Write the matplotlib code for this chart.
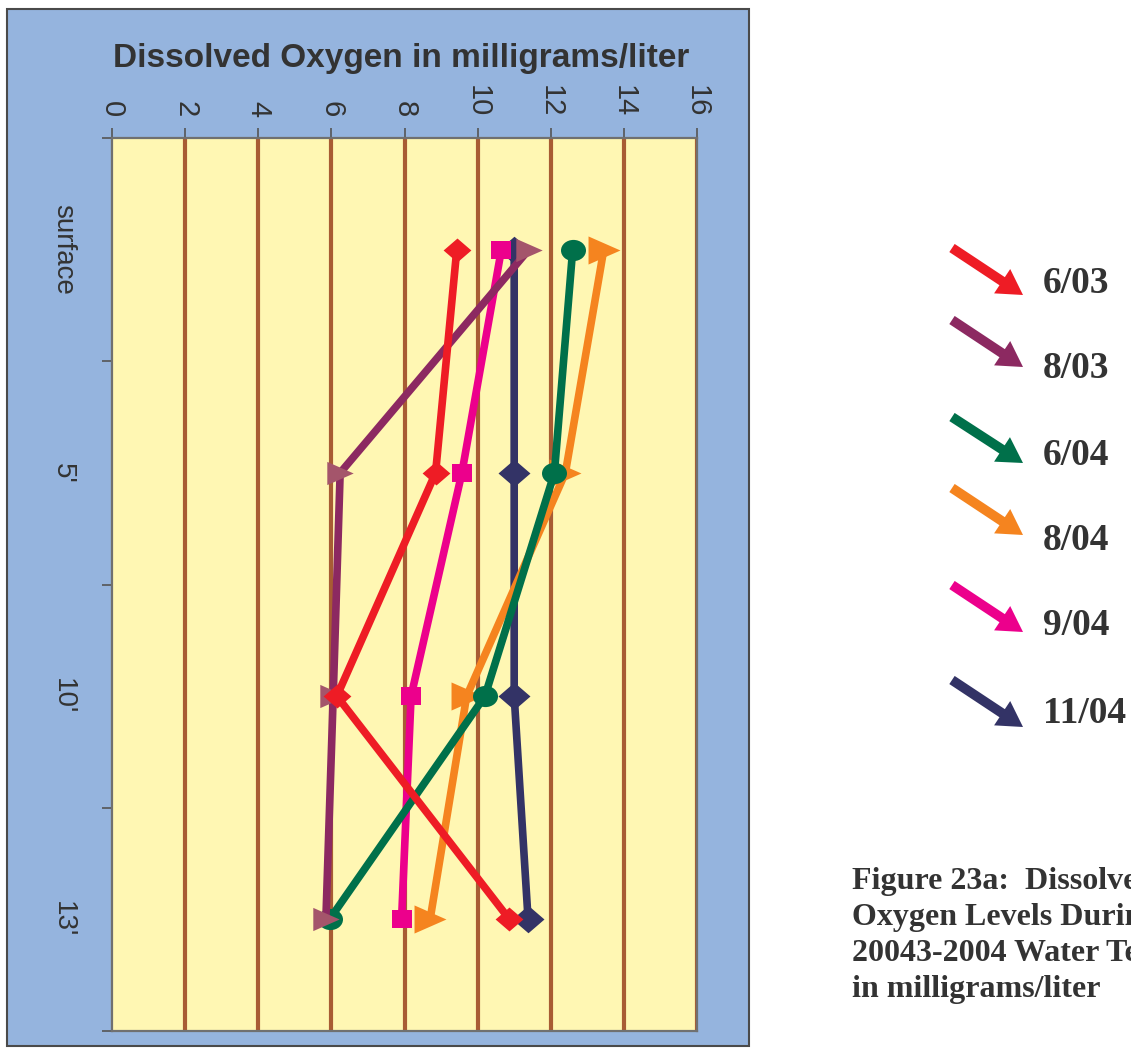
import matplotlib
matplotlib.use("Agg")
import matplotlib.pyplot as plt
import numpy as np
from matplotlib.path import Path
from matplotlib.transforms import Affine2D
from matplotlib.patches import Rectangle, FancyArrowPatch, ArrowStyle

# ---- data: dissolved oxygen (mg/L) by sampling depth ----
depths = ["surface", "5'", "10'", "13'"]
series = ["6/03", "8/03", "6/04", "8/04", "9/04", "11/04"]
do_jun03 = [9.43, 8.85, 6.15, 10.87]
do_aug03 = [11.4, 6.24, 6.05, 5.85]
do_jun04 = [12.6, 12.1, 10.2, 5.95]
do_aug04 = [13.45, 12.4, 9.7, 8.7]
do_sep04 = [10.65, 9.57, 8.18, 7.92]
do_nov04 = [11.0, 11.0, 11.0, 11.38]
x_ticks = [0, 2, 4, 6, 8, 10, 12, 14, 16]

W, H = 1131, 1048


def fx(px):
    return px / W


def fy(py):
    return 1 - py / H


# custom marker shapes (slightly wider than tall)
def closed(verts):
    codes = [Path.MOVETO] + [Path.LINETO] * (len(verts) - 2) + [Path.CLOSEPOLY]
    return Path(verts, codes)


diamond = closed([(-0.58, 0), (0, 0.5), (0.58, 0), (0, -0.5), (-0.58, 0)])
square = closed([(-0.58, -0.5), (0.58, -0.5), (0.58, 0.5), (-0.58, 0.5), (-0.58, -0.5)])
tri_right = closed([(-0.5, -0.44), (0.5, 0), (-0.5, 0.44), (-0.5, -0.44)])
ellipse = Path.unit_circle().transformed(Affine2D().scale(1.18, 1.0))

styles = {
    "6/03": dict(values=do_jun03, color="#EE1C25", mfc="#EE1C25", marker=diamond, ms=20),
    "8/03": dict(values=do_aug03, color="#8C2961", mfc="#A4556B", marker=tri_right, ms=19),
    "6/04": dict(values=do_jun04, color="#00704A", mfc="#00704A", marker=ellipse, ms=18),
    "8/04": dict(values=do_aug04, color="#F5841F", mfc="#F5841F", marker=tri_right, ms=23),
    "9/04": dict(values=do_sep04, color="#EC008C", mfc="#EC008C", marker=square, ms=15),
    "11/04": dict(values=do_nov04, color="#333366", mfc="#333366", marker=diamond, ms=23),
}

fig = plt.figure(figsize=(W / 100, H / 100), dpi=100)
fig.patch.set_facecolor("white")

# blue chart panel
panel = Rectangle((fx(7), fy(1046)), (749 - 7) / W, (1046 - 9) / H,
                  transform=fig.transFigure, facecolor="#95B4DE",
                  edgecolor="#4A4A4A", lw=1.5, zorder=0)
fig.add_artist(panel)

ax = fig.add_axes([fx(112), fy(1031), (697 - 112) / W, (1031 - 138) / H])
ax.set_facecolor("#FFF7B3")
ax.set_xlim(0, 16)
ax.set_ylim(3.5, -0.5)

for v in x_ticks[1:]:
    ax.axvline(v, color="#A85C34", lw=3, zorder=1)

ypos = np.arange(len(depths))
for name in reversed(series):
    st = styles[name]
    ax.plot(st["values"], ypos, color=st["color"], lw=5.5,
            marker=st["marker"], ms=st["ms"], mfc=st["mfc"], mec=st["mfc"],
            mew=0, zorder=3, solid_capstyle="butt")

for side, sp in ax.spines.items():
    sp.set_color("#707070")
    sp.set_linewidth(1.6)
    sp.set_zorder(2)

# x axis on top
ax.set_xticks(x_ticks)
ax.xaxis.tick_top()
ax.tick_params(axis="x", which="major", top=True, bottom=False, labeltop=True,
               labelbottom=False, direction="out", length=7, width=1.2,
               color="#555555", pad=8, labelsize=21, labelcolor="#333333",
               labelrotation=-90)
for lbl in ax.get_xticklabels():
    lbl.set_family(["Liberation Sans Narrow", "Liberation Sans", "DejaVu Sans"])

# y axis: category labels, ticks at the category boundaries
ax.set_yticks(ypos)
ax.set_yticklabels(depths, rotation=-90, va="center", fontsize=20,
                   color="#333333", family=["Liberation Sans", "DejaVu Sans"])
ax.set_yticks(np.arange(-0.5, len(depths), 1.0), minor=True)
ax.tick_params(axis="y", which="major", length=0, pad=26)
ax.tick_params(axis="y", which="minor", length=7, width=1.2,
               direction="out", color="#555555")

fig.text(fx(401), fy(67), "Dissolved Oxygen in milligrams/liter",
         ha="center", va="baseline", fontsize=24, fontweight="bold",
         color="#333333", family=["Liberation Sans", "DejaVu Sans"])

# legend: arrows with dates
arrow_rows = [(248, 295, 293), (320, 367, 378), (417, 463, 465),
              (488, 535, 550), (585, 632, 635), (680, 727, 723)]
for name, (y0, y1, yb) in zip(series, arrow_rows):
    col = styles[name]["color"]
    arr = FancyArrowPatch((fx(952), fy(y0)), (fx(1023), fy(y1)),
                          transform=fig.transFigure,
                          arrowstyle=ArrowStyle.Simple(head_length=1.8,
                                                       head_width=2.1,
                                                       tail_width=0.7),
                          mutation_scale=10, color=col, lw=0,
                          shrinkA=0, shrinkB=0)
    fig.add_artist(arr)
    fig.text(fx(1043), fy(yb), name, ha="left", va="baseline", fontsize=27,
             fontweight="bold", color="#333333",
             family=["Liberation Serif", "DejaVu Serif"])

# figure caption (baseline given for its last line)
fig.text(fx(852), fy(997),
         "Figure 23a:  Dissolved\nOxygen Levels During\n"
         "20043-2004 Water Testing\nin milligrams/liter",
         ha="left", va="baseline", fontsize=23, fontweight="bold",
         color="#333333", linespacing=1.32,
         family=["Liberation Serif", "DejaVu Serif"])

fig.savefig("out.png", dpi=100)
